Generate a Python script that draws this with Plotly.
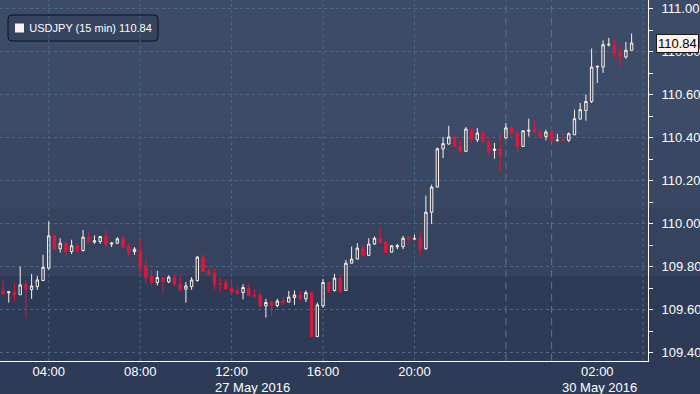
import pandas as pd
import plotly.graph_objects as go

# ---------------- data ----------------
fri_times = pd.date_range("2016-05-27 02:00", periods=88, freq="15min")
mon_times = pd.date_range("2016-05-29 22:00", periods=23, freq="15min")
times = list(fri_times) + list(mon_times)

open_ = [109.687, 109.678, 109.678, 109.669, 109.715, 109.693, 109.707, 109.735, 109.793, 109.943,
         109.883, 109.909, 109.870, 109.897, 109.875, 109.937, 109.914, 109.917, 109.940, 109.905,
         109.909, 109.929, 109.892, 109.870, 109.878, 109.800, 109.754, 109.726, 109.749, 109.729,
         109.751, 109.720, 109.695, 109.707, 109.735, 109.844, 109.780, 109.770, 109.723, 109.726,
         109.700, 109.687, 109.679, 109.700, 109.668, 109.668, 109.617, 109.633, 109.619, 109.640,
         109.635, 109.656, 109.668, 109.650, 109.679, 109.474, 109.617, 109.726, 109.689, 109.746,
         109.689, 109.816, 109.835, 109.886, 109.852, 109.905, 109.932, 109.914, 109.867, 109.892,
         109.893, 109.937, 109.928, 109.929, 109.883, 110.053, 110.170, 110.347, 110.370, 110.403,
         110.362, 110.336, 110.440, 110.390, 110.421, 110.382, 110.340, 110.347,
         110.398, 110.445, 110.421, 110.359, 110.430, 110.437, 110.426, 110.405, 110.426, 110.386,
         110.390, 110.387, 110.413, 110.486, 110.526, 110.568, 110.728, 110.728, 110.831, 110.832,
         110.794, 110.775, 110.806]
high = [109.738, 109.687, 109.720, 109.800, 109.737, 109.766, 109.757, 109.855, 110.010, 109.952,
        109.932, 109.920, 109.925, 109.914, 109.971, 109.963, 109.945, 109.943, 109.976, 109.914,
        109.937, 109.943, 109.909, 109.891, 109.925, 109.839, 109.785, 109.780, 109.750, 109.760,
        109.762, 109.762, 109.728, 109.751, 109.850, 109.858, 109.797, 109.790, 109.749, 109.742,
        109.742, 109.710, 109.718, 109.720, 109.696, 109.679, 109.650, 109.642, 109.650, 109.658,
        109.687, 109.689, 109.689, 109.689, 109.680, 109.633, 109.742, 109.730, 109.766, 109.766,
        109.831, 109.893, 109.909, 109.901, 109.932, 109.940, 109.982, 109.920, 109.898, 109.906,
        109.943, 109.940, 109.948, 109.963, 110.130, 110.181, 110.354, 110.403, 110.455, 110.413,
        110.390, 110.449, 110.445, 110.445, 110.440, 110.398, 110.375, 110.421,
        110.468, 110.455, 110.433, 110.433, 110.488, 110.479, 110.437, 110.437, 110.452, 110.418,
        110.418, 110.424, 110.530, 110.561, 110.600, 110.814, 110.736, 110.852, 110.864, 110.856,
        110.828, 110.845, 110.884]
low = [109.670, 109.633, 109.640, 109.669, 109.565, 109.650, 109.692, 109.733, 109.785, 109.878,
       109.865, 109.847, 109.858, 109.860, 109.870, 109.912, 109.906, 109.906, 109.891, 109.891,
       109.906, 109.888, 109.847, 109.855, 109.766, 109.720, 109.712, 109.712, 109.673, 109.723,
       109.710, 109.684, 109.633, 109.692, 109.730, 109.776, 109.757, 109.692, 109.679, 109.695,
       109.680, 109.668, 109.648, 109.664, 109.656, 109.609, 109.563, 109.572, 109.611, 109.622,
       109.633, 109.622, 109.640, 109.635, 109.473, 109.473, 109.609, 109.676, 109.684, 109.676,
       109.688, 109.815, 109.834, 109.847, 109.851, 109.901, 109.906, 109.863, 109.866, 109.881,
       109.881, 109.912, 109.926, 109.847, 109.878, 109.998, 110.168, 110.305, 110.368, 110.358,
       110.331, 110.335, 110.375, 110.379, 110.377, 110.317, 110.302, 110.243,
       110.396, 110.403, 110.331, 110.358, 110.405, 110.423, 110.403, 110.387, 110.386, 110.382,
       110.384, 110.379, 110.412, 110.485, 110.479, 110.561, 110.654, 110.701, 110.824, 110.770,
       110.728, 110.766, 110.805]
close = [109.673, 109.683, 109.670, 109.715, 109.695, 109.710, 109.738, 109.797, 109.943, 109.881,
         109.909, 109.870, 109.897, 109.875, 109.937, 109.914, 109.920, 109.940, 109.905, 109.909,
         109.929, 109.889, 109.865, 109.881, 109.795, 109.749, 109.726, 109.749, 109.730, 109.751,
         109.718, 109.692, 109.710, 109.738, 109.844, 109.777, 109.766, 109.718, 109.718, 109.696,
         109.681, 109.676, 109.703, 109.665, 109.664, 109.617, 109.633, 109.617, 109.640, 109.633,
         109.658, 109.668, 109.650, 109.679, 109.474, 109.622, 109.726, 109.689, 109.746, 109.684,
         109.816, 109.835, 109.886, 109.852, 109.905, 109.932, 109.912, 109.865, 109.897, 109.897,
         109.932, 109.928, 109.930, 109.883, 110.053, 110.170, 110.348, 110.372, 110.403, 110.359,
         110.336, 110.440, 110.393, 110.421, 110.382, 110.340, 110.347, 110.317,
         110.445, 110.421, 110.359, 110.432, 110.434, 110.424, 110.405, 110.426, 110.387, 110.388,
         110.385, 110.418, 110.488, 110.530, 110.568, 110.728, 110.731, 110.832, 110.834, 110.794,
         110.775, 110.806, 110.840]

series_name = "USDJPY (15 min)"
last_price = 110.84

y_ticks = [109.4, 109.6, 109.8, 110.0, 110.2, 110.4, 110.6, 110.8, 111.0]
y_range = [109.361, 111.04]

x_range = ["2016-05-27 01:52", "2016-05-30 04:13"]
weekend_break = ["2016-05-28 00:00", "2016-05-29 22:00"]
x_label_times = ["2016-05-27 04:00", "2016-05-27 08:00", "2016-05-27 12:00",
                 "2016-05-27 16:00", "2016-05-27 20:00", "2016-05-30 02:00"]
x_label_text = ["04:00", "08:00", "12:00", "16:00", "20:00", "02:00"]
x_minor_ticks = ["2016-05-27 02:00", "2016-05-27 06:00", "2016-05-27 10:00", "2016-05-27 14:00",
                 "2016-05-27 18:00", "2016-05-27 22:00", "2016-05-30 04:00"]
grid_times = ["2016-05-27 04:00", "2016-05-27 08:00", "2016-05-27 12:00",
              "2016-05-27 16:00", "2016-05-27 20:00", "2016-05-30 04:00"]
session_lines = ["2016-05-29 22:00", "2016-05-30 00:00"]
day_labels = ["27 May 2016", "30 May 2016"]
day_spans = [(x_range[0], "2016-05-28 00:00"), ("2016-05-30 00:00", x_range[1])]

# ---------------- style ----------------
W, H = 700, 394
ML, MR, MT, MB = 0, 52, 0, 33
PW, PH = W - ML - MR, H - MT - MB
FONT = "Liberation Sans, Arial, sans-serif"
UP = "#fdf1ea"
DOWN = "#e0163c"
GRID = "#4d6985"
SESSION = "#5b7591"
bands = [(0, 135, "#3c4b68"), (135, 208, "#394763"), (208, 276, "#35435f"), (276, H, "#2e3b57")]

def px_x(px):
    return (px - ML) / PW

def px_y(py):
    return 1 - (py - MT) / PH

fig = go.Figure()

fig.add_trace(go.Candlestick(
    x=times, open=open_, high=high, low=low, close=close,
    increasing=dict(line=dict(color=UP, width=1), fillcolor="rgba(0,0,0,0)"),
    decreasing=dict(line=dict(color=DOWN, width=1), fillcolor=DOWN),
    whiskerwidth=0, hoverinfo="skip", showlegend=False,
))

# arrow markers on the price axis
fig.add_trace(go.Scatter(
    x=[px_x(PW + 5)] * len(y_ticks), y=y_ticks, xaxis="x3", yaxis="y",
    mode="markers", marker=dict(symbol="triangle-right", size=7, color="white"),
    cliponaxis=False, hoverinfo="skip", showlegend=False,
))
# last price tag pointer
fig.add_trace(go.Scatter(
    x=[px_x(PW + 6)], y=[last_price], xaxis="x3", yaxis="y",
    mode="markers", marker=dict(symbol="triangle-left", size=13, color=UP,
                                line=dict(color="#1b1b1b", width=1)),
    cliponaxis=False, hoverinfo="skip", showlegend=False,
))
# legend swatch
fig.add_trace(go.Scatter(
    x=[px_x(19.5)], y=[px_y(28)], xaxis="x3", yaxis="y3",
    mode="markers", marker=dict(symbol="square", size=9, color=UP),
    cliponaxis=False, hoverinfo="skip", showlegend=False,
))

shapes = []
for y0, y1, col in bands:
    shapes.append(dict(type="rect", xref="paper", yref="paper", x0=-0.02, x1=1.2,
                       y0=px_y(y1), y1=px_y(y0), fillcolor=col, line=dict(width=0), layer="below"))

# legend box with rounded corners
lx0, lx1, ly0, ly1, r = 8, 158, 15, 41, 4
path = (f"M {px_x(lx0 + r)},{px_y(ly0)} L {px_x(lx1 - r)},{px_y(ly0)} "
        f"Q {px_x(lx1)},{px_y(ly0)} {px_x(lx1)},{px_y(ly0 + r)} "
        f"L {px_x(lx1)},{px_y(ly1 - r)} Q {px_x(lx1)},{px_y(ly1)} {px_x(lx1 - r)},{px_y(ly1)} "
        f"L {px_x(lx0 + r)},{px_y(ly1)} Q {px_x(lx0)},{px_y(ly1)} {px_x(lx0)},{px_y(ly1 - r)} "
        f"L {px_x(lx0)},{px_y(ly0 + r)} Q {px_x(lx0)},{px_y(ly0)} {px_x(lx0 + r)},{px_y(ly0)} Z")
shapes.append(dict(type="path", xref="paper", yref="paper", path=path,
                   fillcolor="#36445f", line=dict(color="#0c111c", width=1), layer="below"))

for t in grid_times:
    shapes.append(dict(type="line", xref="x", yref="paper", x0=t, x1=t, y0=0, y1=1,
                       line=dict(color=GRID, width=1, dash="dot"), layer="below"))
for t in session_lines:
    shapes.append(dict(type="line", xref="x", yref="paper", x0=t, x1=t, y0=0, y1=1,
                       line=dict(color=SESSION, width=1, dash="7px,5px"), layer="below"))

annotations = []
for (a, b), lab in zip(day_spans, day_labels):
    ta, tb = pd.Timestamp(a), pd.Timestamp(b)
    mid = ta + (tb - ta) / 2
    annotations.append(dict(x=mid.strftime("%Y-%m-%d %H:%M:%S"), xref="x", y=px_y(387), yref="paper",
                            text=lab, showarrow=False, xanchor="center", yanchor="middle",
                            font=dict(family=FONT, size=13, color="white")))
annotations.append(dict(x=px_x(lx0 + 1), xref="paper", y=px_y(28), yref="paper",
                        text="\u00a0" * 6 + f"{series_name} {last_price:.2f}", showarrow=False,
                        xanchor="left", yanchor="middle",
                        font=dict(family=FONT, size=11, color="white")))
annotations.append(dict(x=px_x(PW + 8), xref="paper", y=last_price, yref="y",
                        text=f"{last_price:.2f}", showarrow=False, xanchor="left", yanchor="middle",
                        bgcolor=UP, bordercolor="#1b1b1b", borderwidth=1, borderpad=1,
                        font=dict(family=FONT, size=13, color="black")))

rb = [dict(bounds=weekend_break)]

fig.update_layout(
    width=W, height=H, margin=dict(l=ML, r=MR, t=MT, b=MB),
    paper_bgcolor="#2c3953", plot_bgcolor="rgba(0,0,0,0)",
    showlegend=False, boxgap=0.4, hovermode=False,
    shapes=shapes, annotations=annotations,
    xaxis=dict(type="date", range=x_range, rangebreaks=rb,
               tickmode="array", tickvals=x_label_times, ticktext=x_label_text,
               ticks="", showgrid=False, zeroline=False,
               showline=True, linecolor="white", linewidth=1,
               tickfont=dict(family=FONT, size=13, color="white"), ticklabelstandoff=-2,
               rangeslider=dict(visible=False), fixedrange=True, automargin=False),
    xaxis2=dict(type="date", overlaying="x", matches="x", anchor="y", rangebreaks=rb,
                tickmode="array", tickvals=x_minor_ticks, ticks="outside", ticklen=4,
                tickcolor="white", tickwidth=1, showticklabels=False, showgrid=False,
                showline=False, zeroline=False),
    xaxis4=dict(type="date", overlaying="x", matches="x", anchor="y", rangebreaks=rb,
                tickmode="array", tickvals=session_lines, ticks="outside", ticklen=H - MT - PH,
                tickcolor="white", tickwidth=1, showticklabels=False, showgrid=False,
                showline=False, zeroline=False),
    xaxis3=dict(overlaying="x", range=[0, 1], visible=False, anchor="y3", fixedrange=True),
    yaxis=dict(side="right", range=y_range, tickmode="array", tickvals=y_ticks,
               ticktext=[f"{v:.2f}" for v in y_ticks], ticks="outside", ticklen=4,
               tickcolor="white", showline=True, linecolor="white", linewidth=1,
               showgrid=True, gridcolor=GRID, griddash="dot", gridwidth=1, zeroline=False,
               minor=dict(tickmode="linear", tick0=109.3, dtick=0.1, ticks="outside",
                          ticklen=4, tickcolor="white", showgrid=False),
               tickfont=dict(family=FONT, size=13, color="white"), ticklabelstandoff=6,
               fixedrange=True, automargin=False),
    yaxis3=dict(overlaying="y", range=[0, 1], visible=False, anchor="x3", fixedrange=True),
)

fig.write_html("out.html", config={"displayModeBar": False},
               post_script="document.body.style.margin='0';")
